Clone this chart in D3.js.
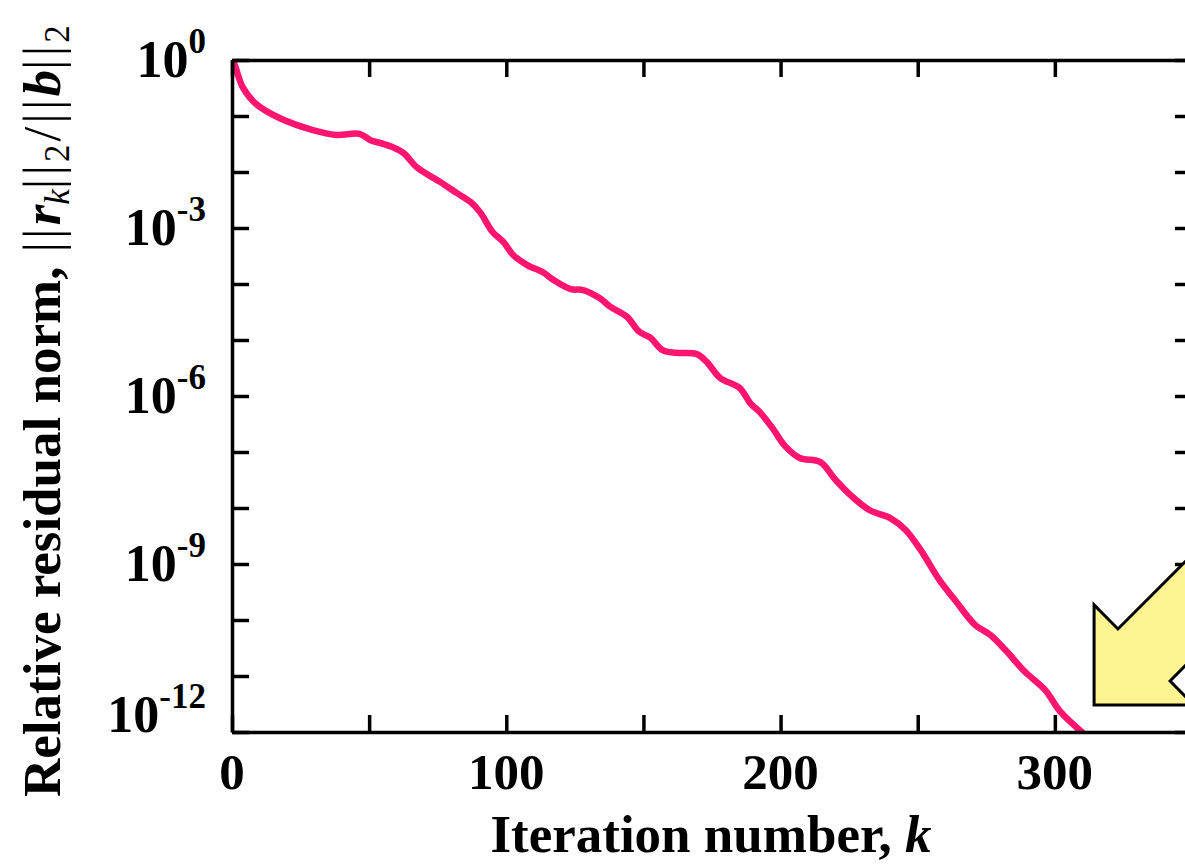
<!DOCTYPE html>
<html>
<head>
<meta charset="utf-8">
<script src="https://d3js.org/d3.v7.min.js"></script>
<style>
  body { margin: 0; background: #fff; }
  svg { display: block; font-family: "Liberation Serif", "Times New Roman", serif; }
</style>
</head>
<body>
<script>
// Iteration numbers and relative residual norms
const iterations = [0, 1, 4, 9, 17.5, 29.5, 38, 46.5, 50.5, 54, 58.5, 62.5, 67.5, 76, 82, 87, 90.5,
  95, 99, 102.5, 107.5, 113.5, 117, 123.5, 128, 134, 138, 144, 148.5, 152.5, 157, 162, 169.5,
  173, 178, 185, 189, 192.5, 197, 201.5, 207, 214.5, 220, 225.5, 232.5, 240, 245.5, 251,
  258, 263.5, 271, 276.5, 282, 289, 296.5, 302, 311];
const residuals = [1, 0.81, 0.32, 0.16, 0.091, 0.056, 0.046, 0.048, 0.037, 0.033, 0.028, 0.022,
  1.2e-2, 6.6e-3, 4.2e-3, 2.9e-3, 1.9e-3, 8.5e-4, 5.6e-4, 3.3e-4, 2.2e-4, 1.6e-4, 1.2e-4,
  8.1e-5, 7.8e-5, 5.6e-5, 3.9e-5, 2.6e-5, 1.4e-5, 1.1e-5, 6.6e-6, 5.9e-6, 5.6e-6, 4.1e-6,
  2.1e-6, 1.4e-6, 7.4e-7, 5.1e-7, 2.7e-7, 1.3e-7, 7.8e-8, 6.6e-8, 3.2e-8, 1.7e-8, 9.1e-9,
  6.6e-9, 4.1e-9, 1.8e-9, 5.1e-10, 2.3e-10, 8.1e-11, 5.4e-11, 2.9e-11, 1.2e-11, 5.6e-12,
  2.3e-12, 8.9e-13];

const xTicks = [0, 50, 100, 150, 200, 250, 300, 350];
const xLabels = [0, 100, 200, 300];
const yTickExps = d3.range(0, -13, -1);
const yLabelExps = [0, -3, -6, -9, -12];

// yellow arrow annotation (partly off the right edge), in data units [k, log10]
const arrowPts = [[314.3, -9.73], [323.0, -10.16], [356.5, -8.52], [356.5, -11.52], [314.3, -11.52]];
const notchPts = [[342.0, -11.09], [352.9, -10.55], [352.9, -11.63]];

const W = 1185, H = 864;
const margin = { top: 60, left: 232 };
const plotW = 960, plotH = 672;

const svg = d3.select("body").append("svg")
  .attr("width", W)
  .attr("height", H);

const x = d3.scaleLinear().domain([0, 350]).range([margin.left, margin.left + plotW]);
const y = d3.scaleLog().domain([1e-12, 1]).range([margin.top + plotH, margin.top]);
const ylog = d3.scaleLinear().domain([-12, 0]).range([margin.top + plotH, margin.top]);

svg.append("defs").append("clipPath").attr("id", "plotclip")
  .append("rect")
  .attr("x", margin.left).attr("y", margin.top)
  .attr("width", plotW).attr("height", plotH);

// the curve
const line = d3.line()
  .x((d, i) => x(iterations[i]))
  .y(d => y(d))
  .curve(d3.curveCatmullRom);

svg.append("path")
  .datum(residuals)
  .attr("clip-path", "url(#plotclip)")
  .attr("fill", "none")
  .attr("stroke", "#ff1470")
  .attr("stroke-width", 6.5)
  .attr("stroke-linejoin", "round")
  .attr("d", line);

// frame with inward ticks on all four sides
const tickLen = 17;
const yTickVals = yTickExps.map(e => Math.pow(10, e));

function styleAxis(g) {
  g.selectAll("path.domain").attr("stroke", "#000").attr("stroke-width", 3.5);
  g.selectAll(".tick line").attr("stroke", "#000").attr("stroke-width", 3.5);
  g.selectAll(".tick text").remove();
}

svg.append("g")
  .attr("transform", `translate(0,${margin.top + plotH})`)
  .call(d3.axisBottom(x).tickValues(xTicks).tickSize(-tickLen).tickSizeOuter(0))
  .call(styleAxis);
svg.append("g")
  .attr("transform", `translate(0,${margin.top})`)
  .call(d3.axisTop(x).tickValues(xTicks).tickSize(-tickLen).tickSizeOuter(0))
  .call(styleAxis);
svg.append("g")
  .attr("transform", `translate(${margin.left},0)`)
  .call(d3.axisLeft(y).tickValues(yTickVals).tickSize(-tickLen).tickSizeOuter(0))
  .call(styleAxis);
svg.append("g")
  .attr("transform", `translate(${margin.left + plotW},0)`)
  .call(d3.axisRight(y).tickValues(yTickVals).tickSize(-tickLen).tickSizeOuter(0))
  .call(styleAxis);

// x tick labels
svg.append("g").selectAll("text")
  .data(xLabels)
  .join("text")
  .attr("x", d => x(d))
  .attr("y", 789)
  .attr("text-anchor", "middle")
  .attr("font-size", 51)
  .attr("font-weight", "bold")
  .text(d => d);

// y tick labels 10^n
const yl = svg.append("g").selectAll("text")
  .data(yLabelExps)
  .join("text")
  .attr("x", 206)
  .attr("y", d => ylog(d) + (d === -12 ? 0 : 17))
  .attr("text-anchor", "end")
  .attr("font-size", 52)
  .attr("font-weight", "bold");
yl.append("tspan").text("10");
yl.append("tspan")
  .attr("dy", -24)
  .attr("font-size", 35)
  .text(d => d === 0 ? "0" : "-" + (-d));

// arrow annotation
const ptsPx = p => p.map(d => [x(d[0]), ylog(d[1])].join(",")).join(" ");
svg.append("polygon")
  .attr("points", ptsPx(arrowPts))
  .attr("fill", "#fff491")
  .attr("stroke", "#000")
  .attr("stroke-width", 3);
svg.append("polygon")
  .attr("points", ptsPx(notchPts))
  .attr("fill", "#fff")
  .attr("stroke", "#000")
  .attr("stroke-width", 3);

// axis titles
const xt = svg.append("text")
  .attr("x", 711)
  .attr("y", 852)
  .attr("text-anchor", "middle")
  .attr("font-size", 53)
  .attr("font-weight", "bold");
xt.append("tspan").text("Iteration number, ");
xt.append("tspan").attr("font-style", "italic").text("k");

const yt = svg.append("text")
  .attr("transform", "translate(60,797) rotate(-90)")
  .attr("text-anchor", "start")
  .attr("font-size", 53);
yt.append("tspan").attr("font-weight", "bold").text("Relative residual norm,");
yt.append("tspan").attr("dx", 14).attr("letter-spacing", 3).text("||");
yt.append("tspan").attr("font-weight", "bold").attr("font-style", "italic").text("r");
yt.append("tspan").attr("font-style", "italic").attr("font-size", 35).attr("dy", 9).text("k");
yt.append("tspan").attr("dy", -9).attr("letter-spacing", 3).text("||");
yt.append("tspan").attr("font-size", 35).attr("dy", 9).text("2");
yt.append("tspan").attr("dy", -9).attr("dx", 3).text("/");
yt.append("tspan").attr("dx", 3).attr("letter-spacing", 3).text("||");
yt.append("tspan").attr("font-weight", "bold").attr("font-style", "italic").text("b");
yt.append("tspan").attr("letter-spacing", 3).text("||");
yt.append("tspan").attr("font-size", 35).attr("dy", 9).text("2");
</script>
</body>
</html>
